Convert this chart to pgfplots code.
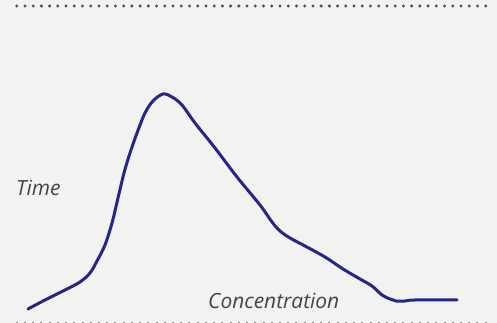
\documentclass[border=0pt]{standalone}
\usepackage{pgfplots}
\pgfplotsset{compat=1.18}
\usepackage{fontspec}
\setmainfont{Open Sans}
\definecolor{bg}{HTML}{F2F2F0}
\definecolor{curve}{HTML}{262686}
\definecolor{dotdark}{HTML}{47505F}
\definecolor{dotlight}{HTML}{8A8F99}
\definecolor{txt}{HTML}{454545}
\begin{document}
\begin{tikzpicture}
\useasboundingbox (0,0) rectangle (497bp,323bp);
\fill[bg] (0,0) rectangle (497bp,323bp);
\begin{axis}[
  scale only axis, width=497bp, height=323bp,
  xmin=0, xmax=497, ymin=0, ymax=323,
  hide axis, clip=false,
]
\draw[dotdark, line width=3.3bp, line cap=round, dash pattern=on 0pt off 8.228bp] (axis cs:16.7,317) -- (axis cs:486.5,317);
\draw[dotlight, line width=2bp, line cap=butt, dash pattern=on 2bp off 6.228bp] (axis cs:15.7,0) -- (axis cs:487.5,0);
\addplot[curve, line width=3bp, smooth, tension=0.55, line join=round, line cap=round] coordinates {
(28,14) (45,23) (65,33) (80,41) (90,50) (97,62) (105,78) (112,100)
(118,125) (124,150) (130,170) (137,190) (145,210) (153,222) (163,229)
(172,226) (182,218) (195,200) (215,175) (237,146) (260,118) (272,101)
(280,92) (290,85) (305,77) (325,66) (343,54) (360,44) (372,37)
(382,28) (390,24) (396,22) (405,22) (415,23) (457,23)
};
\node[anchor=base west, text=txt, inner sep=0pt, font=\fontsize{21}{24}\selectfont\itshape] at (axis cs:16,127.3) {Time};
\node[anchor=base west, text=txt, inner sep=0pt, font=\fontsize{21}{24}\selectfont\itshape] at (axis cs:208,14.7) {Concentration};
\end{axis}
\end{tikzpicture}
\end{document}
